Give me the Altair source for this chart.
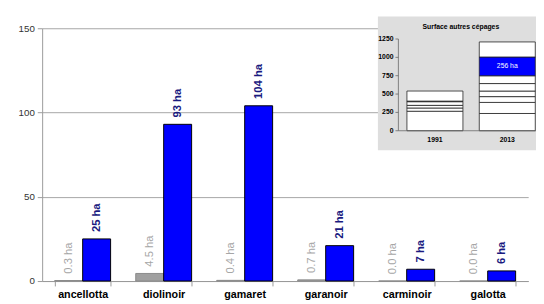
import altair as alt
import pandas as pd

# ---------------- data ----------------
categories = ["ancellotta", "diolinoir", "gamaret", "garanoir", "carminoir", "galotta"]
years = ["1991", "2013"]
values_1991 = [0.3, 4.5, 0.4, 0.7, 0.0, 0.0]
values_2013 = [25, 93, 104, 21, 7, 6]
labels_1991 = ["0.3 ha", "4.5 ha", "0.4 ha", "0.7 ha", "0.0 ha", "0.0 ha"]
labels_2013 = ["25 ha", "93 ha", "104 ha", "21 ha", "7 ha", "6 ha"]
main_ticks = [0, 50, 100, 150]

inset_title = "Surface autres cépages"
inset_years = ["1991", "2013"]
inset_bounds_1991 = [0, 266, 310, 346, 396, 404, 541]
inset_bounds_2013 = [0, 235, 386, 465, 541, 643, 749, 1005, 1210]
inset_highlight_2013 = 6          # index of the highlighted (blue) segment
inset_highlight_label = "256 ha"
inset_ticks = [0, 250, 500, 750, 1000, 1250]

FONT = "Liberation Sans"
IX = 365  # inset y-axis position inside the plot area (px)

# ---------------- main chart ----------------
rows = []
for i, c in enumerate(categories):
    rows.append({"cat": c, "year": "1991", "val": values_1991[i], "lab": labels_1991[i]})
    rows.append({"cat": c, "year": "2013", "val": values_2013[i], "lab": labels_2013[i]})
df_main = pd.DataFrame(rows)

x_main = alt.X("cat:N", sort=categories,
               scale=alt.Scale(paddingInner=0.31, paddingOuter=0.155),
               axis=alt.Axis(title=None, labelAngle=0, labelFont=FONT, labelFontSize=11,
                             labelFontWeight="bold", labelColor="#000000",
                             domainColor="#999999", tickColor="#999999",
                             tickBand="extent", tickSize=5, labelPadding=3))
x_off = alt.XOffset("year:N", sort=years, scale=alt.Scale(paddingInner=0, paddingOuter=0))
y_main = alt.Y("val:Q", scale=alt.Scale(domain=[0, 150], nice=False),
               axis=alt.Axis(title=None, values=main_ticks, grid=True, gridColor="#a6a6a6",
                             domainColor="#999999", tickColor="#999999", tickSize=5,
                             labelFont=FONT, labelFontSize=10, labelColor="#333333",
                             labelPadding=3))

base = alt.Chart(df_main)
bars = base.mark_bar(strokeWidth=1).encode(
    x=x_main, xOffset=x_off, y=y_main,
    color=alt.Color("year:N", scale=alt.Scale(domain=years, range=["#a0a0a0", "#0000ff"]), legend=None),
    stroke=alt.Stroke("year:N", scale=alt.Scale(domain=years, range=["#8a8a8a", "#000000"]), legend=None),
)
lab_grey = base.transform_filter(alt.datum.year == "1991").mark_text(
    angle=270, align="left", baseline="middle", dx=7, font=FONT, fontSize=11.5, color="#a6a6a6"
).encode(x=x_main, xOffset=x_off, y=y_main, text="lab:N")
lab_blue = base.transform_filter(alt.datum.year == "2013").mark_text(
    angle=270, align="left", baseline="middle", dx=7, font=FONT, fontSize=11.5,
    fontWeight="bold", color="#1a1a80"
).encode(x=x_main, xOffset=x_off, y=y_main, text="lab:N")

main = alt.layer(bars, lab_grey, lab_blue)

# ---------------- inset ----------------
seg_rows = []
for k in range(len(inset_bounds_1991) - 1):
    seg_rows.append({"iyear": "1991", "lo": inset_bounds_1991[k], "hi": inset_bounds_1991[k + 1],
                     "fill": "#ffffff"})
for k in range(len(inset_bounds_2013) - 1):
    seg_rows.append({"iyear": "2013", "lo": inset_bounds_2013[k], "hi": inset_bounds_2013[k + 1],
                     "fill": "#0000ff" if k == inset_highlight_2013 else "#ffffff"})
df_inset = pd.DataFrame(seg_rows)

iy_scale = alt.Scale(domain=[0, 1250], range=[105, 11], nice=False)
ix_scale = alt.Scale(domain=inset_years, range=[IX, IX + 149], paddingInner=0.226, paddingOuter=0.118)

bg = alt.Chart(pd.DataFrame({"a": [0]})).mark_rect(color="#dedede").encode(
    x=alt.value(IX - 21), x2=alt.value(IX + 170), y=alt.value(-12), y2=alt.value(125))

ibars = alt.Chart(df_inset).mark_bar(stroke="#222222", strokeWidth=0.8).encode(
    x=alt.X("iyear:N", scale=ix_scale, axis=None),
    y=alt.Y("lo:Q", scale=iy_scale, axis=None),
    y2="hi:Q",
    fill=alt.Fill("fill:N", scale=None),
)

hl_lo = inset_bounds_2013[inset_highlight_2013]
hl_hi = inset_bounds_2013[inset_highlight_2013 + 1]
ihl = alt.Chart(pd.DataFrame({"iyear": ["2013"], "mid": [(hl_lo + hl_hi) / 2],
                              "t": [inset_highlight_label]})).mark_text(
    font=FONT, fontSize=7, color="#ffffff", baseline="middle"
).encode(x=alt.X("iyear:N", scale=ix_scale, axis=None),
         y=alt.Y("mid:Q", scale=iy_scale, axis=None), text="t:N")

df_it = pd.DataFrame({"t": inset_ticks})
itick_lab = alt.Chart(df_it).mark_text(
    font=FONT, fontSize=7, fontWeight="bold", align="right", baseline="middle", color="#000000"
).encode(x=alt.value(IX - 5), y=alt.Y("t:Q", scale=iy_scale, axis=None), text="t:Q")
itick = alt.Chart(df_it).mark_rule(color="#666666", strokeWidth=0.8).encode(
    x=alt.value(IX - 3), x2=alt.value(IX), y=alt.Y("t:Q", scale=iy_scale, axis=None))

df_ax = pd.DataFrame({"a": [inset_ticks[0]], "b": [inset_ticks[-1]]})
iyaxis = alt.Chart(df_ax).mark_rule(color="#666666", strokeWidth=0.8).encode(
    x=alt.value(IX), y=alt.Y("a:Q", scale=iy_scale, axis=None), y2="b:Q")
ixaxis = alt.Chart(df_ax).mark_rule(color="#666666", strokeWidth=0.8).encode(
    x=alt.value(IX), x2=alt.value(IX + 151), y=alt.Y("a:Q", scale=iy_scale, axis=None))

ixlab = alt.Chart(pd.DataFrame({"iyear": inset_years})).mark_text(
    font=FONT, fontSize=7, fontWeight="bold", color="#000000", baseline="middle"
).encode(x=alt.X("iyear:N", scale=ix_scale, axis=None), y=alt.value(115), text="iyear:N")

ititle = alt.Chart(pd.DataFrame({"t": [inset_title]})).mark_text(
    font=FONT, fontSize=7, fontWeight="bold", color="#000000", baseline="middle"
).encode(x=alt.value(IX + 64), y=alt.value(-1), text="t:N")

inset = alt.layer(bg, ibars, ihl, itick, itick_lab, iyaxis, ixaxis, ixlab, ititle)

chart = alt.layer(main, inset).resolve_scale(
    x="independent", y="independent", color="independent"
).properties(
    width=498, height=259,
    autosize=alt.AutoSizeParams(type="none"),
    padding={"left": 35, "top": 17, "right": 8, "bottom": 30},
    background="#ffffff",
).configure_view(stroke=None)

chart.save("out.html", embed_options={"renderer": "svg", "actions": False})
